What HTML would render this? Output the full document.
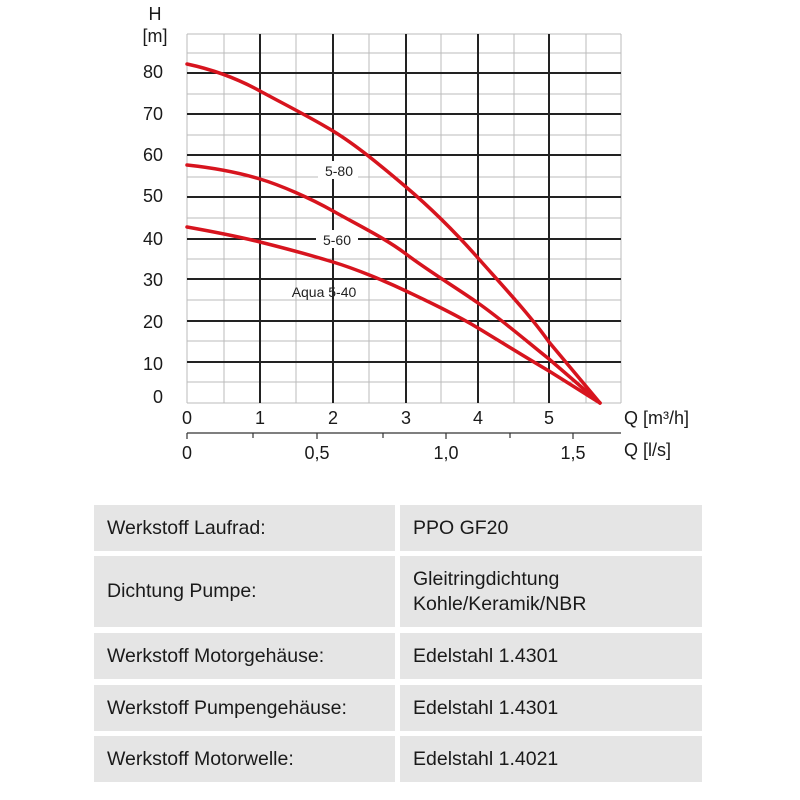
<!DOCTYPE html>
<html><head><meta charset="utf-8"><style>
body{margin:0;background:#fff;width:800px;height:800px;overflow:hidden;position:relative;font-family:"Liberation Sans",sans-serif}
.c{position:absolute;background:#e5e5e5;font-size:19.5px;color:#1a1a1a;display:flex;align-items:center;box-sizing:border-box;line-height:25px}
</style></head><body>
<svg width="800" height="480" style="position:absolute;left:0;top:0" font-family="Liberation Sans, sans-serif">
<g stroke="#bbb" stroke-width="1">
<line x1="224" y1="34" x2="224" y2="403"/><line x1="296" y1="34" x2="296" y2="403"/><line x1="369" y1="34" x2="369" y2="403"/><line x1="441" y1="34" x2="441" y2="403"/><line x1="514" y1="34" x2="514" y2="403"/><line x1="586" y1="34" x2="586" y2="403"/><line x1="621" y1="34" x2="621" y2="403"/>
<line x1="187" y1="34" x2="621" y2="34"/><line x1="187" y1="53" x2="621" y2="53"/><line x1="187" y1="94" x2="621" y2="94"/><line x1="187" y1="135" x2="621" y2="135"/><line x1="187" y1="177" x2="621" y2="177"/><line x1="187" y1="218" x2="621" y2="218"/><line x1="187" y1="259" x2="621" y2="259"/><line x1="187" y1="300" x2="621" y2="300"/><line x1="187" y1="341" x2="621" y2="341"/><line x1="187" y1="382" x2="621" y2="382"/>
<line x1="187" y1="34" x2="187" y2="403"/><line x1="187" y1="403" x2="621" y2="403"/>
</g>
<g stroke="#222" stroke-width="2">
<line x1="260" y1="34" x2="260" y2="403"/><line x1="333" y1="34" x2="333" y2="403"/><line x1="406" y1="34" x2="406" y2="403"/><line x1="478" y1="34" x2="478" y2="403"/><line x1="549" y1="34" x2="549" y2="403"/>
<line x1="187" y1="73" x2="621" y2="73"/><line x1="187" y1="114" x2="621" y2="114"/><line x1="187" y1="155" x2="621" y2="155"/><line x1="187" y1="197" x2="621" y2="197"/><line x1="187" y1="239" x2="621" y2="239"/><line x1="187" y1="279" x2="621" y2="279"/><line x1="187" y1="321" x2="621" y2="321"/><line x1="187" y1="362" x2="621" y2="362"/>
</g>
<g fill="none" stroke="#d7141e" stroke-width="3.5" stroke-linecap="round">
<path d="M187,64 C215,70 240,80 260,91 S310,117 333,131 S380,165 406,187 S455,232 478,258 S530,315 549,342 L600,403"/>
<path d="M187,165 C215,168 240,173 260,179 S310,198 333,211 S385,238 406,254 S455,287 478,303 S530,344 549,359 L600,403"/>
<path d="M187,227 C215,232 240,237 260,242 S310,255 333,262 S385,281 406,291 S455,314 478,328 S530,360 549,371 L600,403"/>
</g>
<g font-size="14" fill="#222" text-anchor="middle">
<rect x="318" y="161" width="40" height="18" fill="#fff"/><text x="339" y="176">5-80</text>
<rect x="316" y="230" width="42" height="18" fill="#fff"/><text x="337" y="245">5-60</text>
<text x="324" y="297">Aqua 5-40</text>
</g>
<g font-size="18" fill="#1a1a1a" text-anchor="end">
<text x="155" y="20" text-anchor="middle">H</text><text x="155" y="42" text-anchor="middle">[m]</text>
<text x="163" y="78">80</text><text x="163" y="120">70</text><text x="163" y="161">60</text><text x="163" y="202">50</text><text x="163" y="245">40</text><text x="163" y="286">30</text><text x="163" y="328">20</text><text x="163" y="370">10</text><text x="163" y="403">0</text>
</g>
<g font-size="18" fill="#1a1a1a" text-anchor="middle">
<text x="187" y="424">0</text><text x="260" y="424">1</text><text x="333" y="424">2</text><text x="406" y="424">3</text><text x="478" y="424">4</text><text x="549" y="424">5</text>
<text x="187" y="459">0</text><text x="317" y="459">0,5</text><text x="446" y="459">1,0</text><text x="573" y="459">1,5</text>
<text x="624" y="424" text-anchor="start">Q [m³/h]</text><text x="624" y="456" text-anchor="start">Q [l/s]</text>
</g>
<g stroke="#333" stroke-width="1.2">
<line x1="187" y1="433" x2="621" y2="433"/>
<line x1="187" y1="433" x2="187" y2="439"/><line x1="253" y1="433" x2="253" y2="438"/><line x1="317" y1="433" x2="317" y2="439"/><line x1="383" y1="433" x2="383" y2="438"/><line x1="446" y1="433" x2="446" y2="439"/><line x1="510" y1="433" x2="510" y2="438"/><line x1="573" y1="433" x2="573" y2="439"/>
</g>
</svg>
<div class="c" style="left:94px;top:505px;width:301px;height:46px;padding-left:13px">Werkstoff Laufrad:</div>
<div class="c" style="left:400px;top:505px;width:302px;height:46px;padding-left:13px">PPO GF20</div>
<div class="c" style="left:94px;top:556px;width:301px;height:71px;padding-left:13px">Dichtung Pumpe:</div>
<div class="c" style="left:400px;top:556px;width:302px;height:71px;padding-left:13px">Gleitringdichtung<br>Kohle/Keramik/NBR</div>
<div class="c" style="left:94px;top:633px;width:301px;height:46px;padding-left:13px">Werkstoff Motorgehäuse:</div>
<div class="c" style="left:400px;top:633px;width:302px;height:46px;padding-left:13px">Edelstahl 1.4301</div>
<div class="c" style="left:94px;top:685px;width:301px;height:46px;padding-left:13px">Werkstoff Pumpengehäuse:</div>
<div class="c" style="left:400px;top:685px;width:302px;height:46px;padding-left:13px">Edelstahl 1.4301</div>
<div class="c" style="left:94px;top:736px;width:301px;height:46px;padding-left:13px">Werkstoff Motorwelle:</div>
<div class="c" style="left:400px;top:736px;width:302px;height:46px;padding-left:13px">Edelstahl 1.4021</div>
</body></html>
